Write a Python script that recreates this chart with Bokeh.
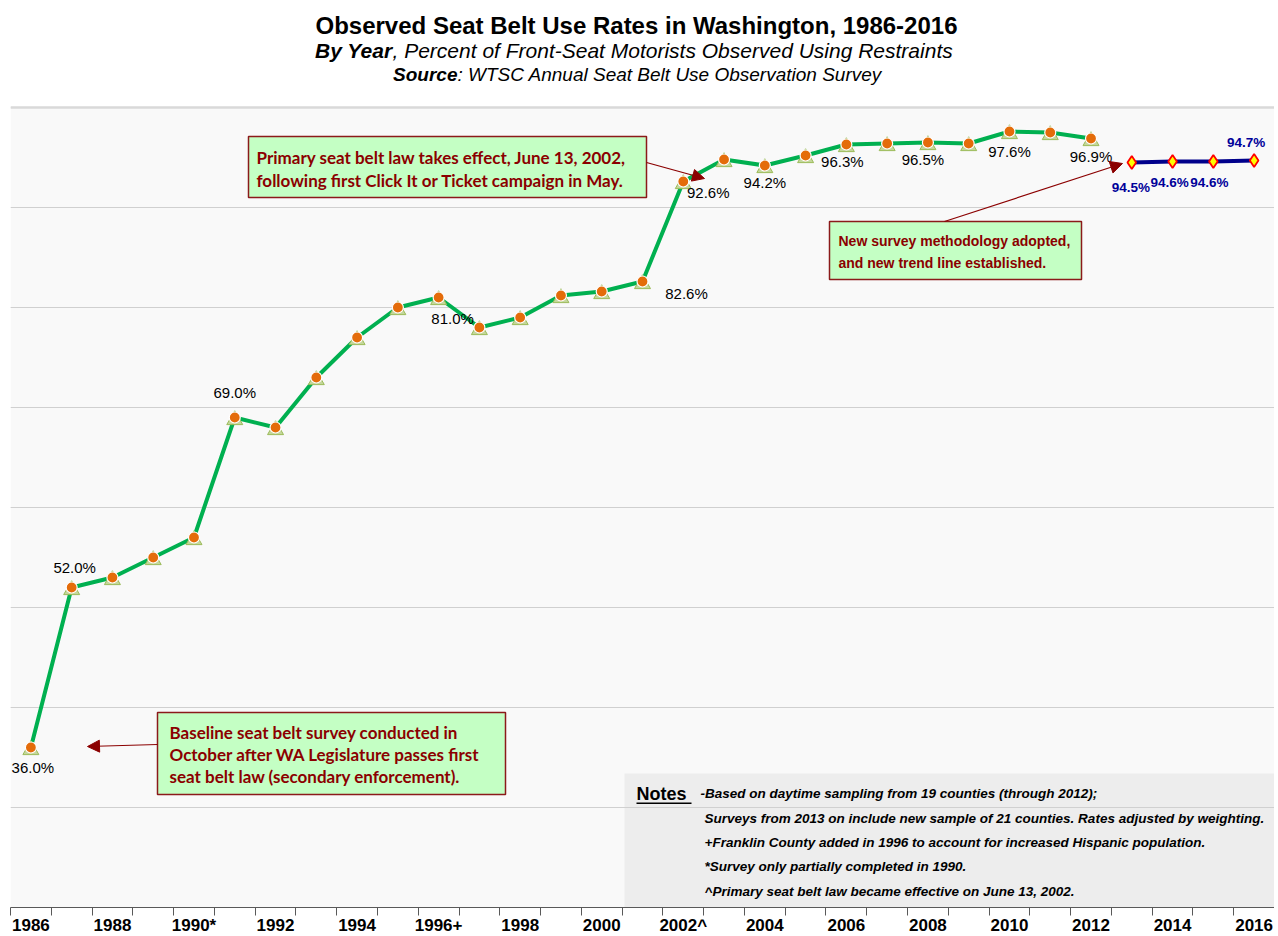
from bokeh.plotting import figure
from bokeh.models import (Range1d, FixedTicker, Grid, Label, BoxAnnotation, Arrow,
                          NormalHead, ColumnDataSource)
from bokeh.transform import dodge
from bokeh.core.properties import value
from bokeh.embed import file_html
from bokeh.resources import INLINE

# ---------------- data ----------------
years_old = list(range(1986, 2013))
rates_old = [36.0, 52.0, 53.0, 55.0, 57.0, 69.0, 68.0, 73.0, 77.0, 80.0,
             81.0, 78.0, 79.0, 81.2, 81.6, 82.6, 92.6, 94.8, 94.2, 95.2,
             96.3, 96.4, 96.5, 96.4, 97.6, 97.5, 96.9]
years_new = [2013, 2014, 2015, 2016]
rates_new = [94.5, 94.6, 94.6, 94.7]

tick_years = list(range(1986, 2017, 2))
tick_labels = ["1986", "1988", "1990*", "1992", "1994", "1996+", "1998", "2000",
               "2002^", "2004", "2006", "2008", "2010", "2012", "2014", "2016"]

labeled_old = [1986, 1987, 1991, 1996, 2001, 2002, 2004, 2006, 2008, 2010, 2012]
labeled_new = [2013, 2014, 2015, 2016]

title = "Observed Seat Belt Use Rates in Washington, 1986-2016"
sub_bold = "By Year"
sub_rest = ", Percent of Front-Seat Motorists Observed Using Restraints"
src_bold = "Source"
src_rest = ": WTSC Annual Seat Belt Use Observation Survey"
box1_lines = ["Primary seat belt law takes effect, June 13, 2002,",
              "following first Click It or Ticket campaign in May."]
box2_lines = ["New survey methodology adopted,",
              "and new trend  line established."]
box3_lines = ["Baseline seat belt survey conducted in",
              "October after WA Legislature passes  first",
              "seat belt law (secondary enforcement)."]
notes_head = "Notes"
notes_lines = ["-Based on daytime sampling from 19 counties (through 2012);",
               "Surveys from 2013 on include new sample of 21 counties. Rates adjusted by weighting.",
               "+Franklin County added in 1996 to account for increased Hispanic population.",
               "*Survey only partially completed in 1990.",
               "^Primary seat belt law became effective on June 13, 2002."]

# ---------------- layout helpers (reference pixel -> data) ----------------
X0, X1 = 1985.5, 2016.5
Y0, Y1 = 20, 100
FRAME_TOP = 107
FRAME_BOTTOM = 907
PX_PER_UNIT = (FRAME_BOTTOM - FRAME_TOP) / (Y1 - Y0)
YTOP = Y1 + FRAME_TOP / PX_PER_UNIT  # data value at page top (title area)


def rx(px):
    return X0 + (px - 10) * (X1 - X0) / 1264.0


def ry(py):
    return Y1 - (py - FRAME_TOP) / PX_PER_UNIT


SANS = "Liberation Sans"
DARKRED = "#8B0000"

p = figure(frame_width=1264, frame_height=FRAME_BOTTOM, output_backend="svg",
           toolbar_location=None,
           x_range=Range1d(X0, X1), y_range=Range1d(Y0, YTOP),
           y_axis_location=None, x_axis_location="below",
           min_border_left=10, min_border_right=0, min_border_top=0,
           min_border_bottom=20)
p.background_fill_color = "white"
p.border_fill_color = "white"
p.outline_line_color = None
p.xgrid.visible = False

# plot-area background (under the grid)
p.add_layout(BoxAnnotation(left=X0, right=X1, bottom=Y0, top=Y1,
                           fill_color="#F9F9F9", fill_alpha=1.0, line_color=None,
                           level="underlay"))
# notes panel
p.add_layout(BoxAnnotation(left=rx(624), right=X1, top=ry(773), bottom=Y0,
                           fill_color="#EDEDED", fill_alpha=1.0, line_color=None,
                           level="underlay"))
p.add_layout(Grid(dimension=1, ticker=FixedTicker(ticks=[30, 40, 50, 60, 70, 80, 90]),
                  grid_line_color="#D0D0D0", grid_line_width=1.2))
p.add_layout(Grid(dimension=1, ticker=FixedTicker(ticks=[100]),
                  grid_line_color="#D9D9D9", grid_line_width=2.5))

ax = p.xaxis[0]
ax.ticker = FixedTicker(ticks=tick_years,
                        minor_ticks=[y - 0.5 for y in range(1986, 2018)])
ax.major_label_overrides = {y: l for y, l in zip(tick_years, tick_labels)}
ax.major_tick_out = 0
ax.major_tick_in = 0
ax.minor_tick_out = 8
ax.minor_tick_in = 0
ax.minor_tick_line_color = "#595959"
ax.axis_line_color = "#595959"
ax.axis_line_width = 1.2
ax.major_label_standoff = 0
ax.major_label_text_font = SANS
ax.major_label_text_font_style = "bold"
ax.major_label_text_font_size = "17px"
ax.major_label_text_color = "black"

# ---------------- series ----------------
src_old = ColumnDataSource(dict(x=years_old, y=rates_old))
src_new = ColumnDataSource(dict(x=years_new, y=rates_new))

p.line("x", "y", source=src_old, line_color="#00B050", line_width=4)
p.scatter("x", dodge("y", -0.25, range=p.y_range), source=src_old, marker="triangle",
          size=16, fill_color="#C4D79B", line_color="#9BBB59", line_width=1)
p.scatter("x", "y", source=src_old, marker="circle", size=11,
          fill_color="#E46C0A", line_color="white", line_width=1.2)

p.line("x", "y", source=src_new, line_color="#00008B", line_width=4)
p.scatter("x", "y", source=src_new, marker="diamond", size=13,
          fill_color="#FFFF00", line_color="#FF0000", line_width=1.8)

# ---------------- data labels ----------------
old_off = {1986: (2, 20), 1987: (3, -20), 1991: (0, -25), 1996: (14, 21),
           2001: (44, 12), 2002: (25, 11), 2004: (0, 17), 2006: (-4, 17),
           2008: (-5, 17), 2010: (0, 20), 2012: (0, 18)}
lab_old = dict(x=labeled_old,
               y=[rates_old[years_old.index(yr)] for yr in labeled_old],
               t=["%.1f%%" % rates_old[years_old.index(yr)] for yr in labeled_old],
               dx=[old_off[yr][0] for yr in labeled_old],
               dy=[old_off[yr][1] for yr in labeled_old])
p.text("x", "y", text="t", x_offset="dx", y_offset="dy",
       source=ColumnDataSource(lab_old), text_font=value(SANS),
       text_font_size="15px", text_color="black", text_align="center",
       text_baseline="middle")

new_off = {2013: (-1, 25), 2014: (-3, 21), 2015: (-4, 21), 2016: (-8, -18)}
lab_new = dict(x=labeled_new,
               y=[rates_new[years_new.index(yr)] for yr in labeled_new],
               t=["%.1f%%" % rates_new[years_new.index(yr)] for yr in labeled_new],
               dx=[new_off[yr][0] for yr in labeled_new],
               dy=[new_off[yr][1] for yr in labeled_new])
p.text("x", "y", text="t", x_offset="dx", y_offset="dy",
       source=ColumnDataSource(lab_new), text_font=value(SANS),
       text_font_size="13.5px", text_font_style="bold", text_color="#000099",
       text_align="center", text_baseline="middle")


# ---------------- titles ----------------
def lbl(x, y, text, size, style="normal", align="left", color="black", font=SANS):
    p.add_layout(Label(x=x, y=y, text=text, text_font=font, text_font_size=size,
                       text_font_style=style, text_align=align,
                       text_baseline="middle", text_color=color))


lbl(rx(636), ry(25), title, "24px", "bold", "center")
lbl(rx(392), ry(50), sub_bold, "21px", "bold italic", "right")
lbl(rx(392), ry(50), sub_rest, "21px", "italic", "left")
lbl(rx(457), ry(74), src_bold, "19px", "bold italic", "right")
lbl(rx(457), ry(74), src_rest, "19px", "italic", "left")


# ---------------- annotation boxes ----------------
def box(l, r, t, b):
    p.add_layout(BoxAnnotation(left=rx(l), right=rx(r), top=ry(t), bottom=ry(b),
                               fill_color="#C4FFC4", fill_alpha=1.0,
                               line_color="#8B1A1A", line_alpha=1.0, line_width=1.5))


box(248, 646, 136, 197)
for i, s in enumerate(box1_lines):
    lbl(rx(256), ry(157 + 23 * i), s, "17px", "bold", "left", DARKRED, "Lato")

box(829, 1081, 221, 279)
for i, s in enumerate(box2_lines):
    lbl(rx(838), ry(240 + 22 * i), s, "14px", "bold", "left", DARKRED)

box(157, 505, 712, 794)
for i, s in enumerate(box3_lines):
    lbl(rx(169), ry(732 + 22 * i), s, "17px", "bold", "left", DARKRED, "Lato")


def arrow(x0, y0, x1, y1):
    p.add_layout(Arrow(end=NormalHead(size=12, fill_color=DARKRED, line_color=DARKRED),
                       x_start=rx(x0), y_start=ry(y0), x_end=rx(x1), y_end=ry(y1),
                       line_color=DARKRED, line_width=1.2))


arrow(646, 162, 704, 178)
arrow(944, 221, 1122, 163)
arrow(157, 744, 87, 746)

# ---------------- notes ----------------
lbl(rx(636), ry(793), notes_head, "18px", "bold", "left")
p.add_layout(BoxAnnotation(left=rx(636), right=rx(691), top=ry(802), bottom=ry(803.5),
                           fill_color="black", fill_alpha=1.0, line_color=None))
lbl(rx(700), ry(793), notes_lines[0], "13.5px", "bold italic", "left")
for i, s in enumerate(notes_lines[1:]):
    lbl(rx(704), ry(818 + 24.2 * i), s, "13.5px", "bold italic", "left")

open("out.html", "w").write(file_html(p, INLINE))
